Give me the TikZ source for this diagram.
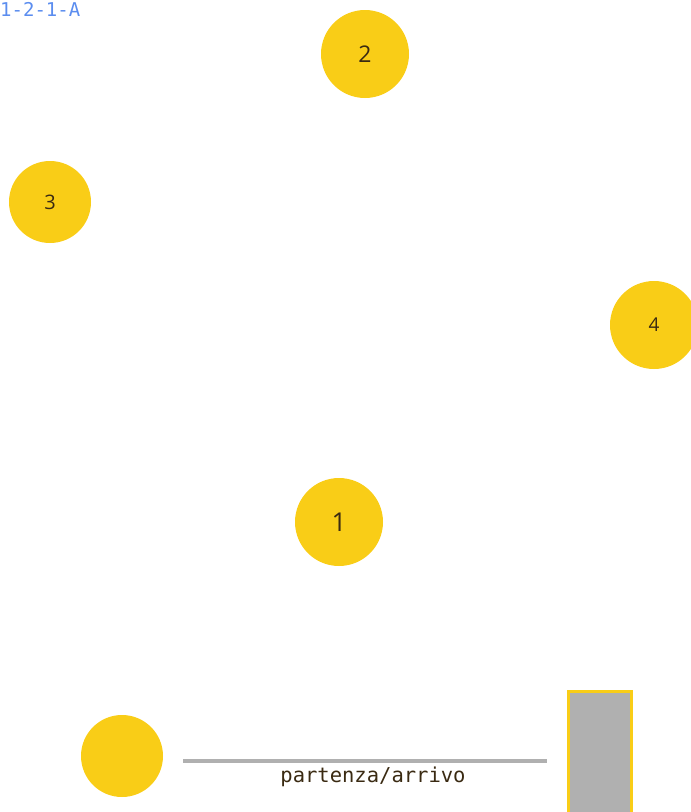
\documentclass[tikz,border=0pt]{standalone}
\usepackage{fontspec}
\setmainfont{Open Sans}
\newfontfamily\monof{DejaVu Sans Mono}
\definecolor{gold}{HTML}{F9CD17}
\definecolor{ink}{HTML}{3A2A12}
\definecolor{railgray}{HTML}{B0B0B0}
\definecolor{tagblue}{HTML}{5B8DEF}
\begin{document}
\begin{tikzpicture}[x=1pt,y=-1pt,
  stop/.style={circle,fill=gold,minimum size=#1,inner sep=0pt,text=ink},
  stop/.default=88pt]
\useasboundingbox (0,0) rectangle (691,812);
\begin{scope}
\clip (0,0) rectangle (691,812);
\node[anchor=west,inner sep=0pt,text=tagblue,font=\monof\fontsize{19}{19}\selectfont] (tag) at (0,9) {1-2-1-A};
\node[stop=88pt,font=\fontsize{23}{23}\selectfont] (n2) at (365,54) {2};
\node[stop=82pt,font=\fontsize{20}{20}\selectfont] (n3) at (50,202) {3};
\node[stop=88pt,font=\fontsize{19}{19}\selectfont] (n4) at (654,325) {4};
\node[stop=88pt,font=\fontsize{26}{26}\selectfont] (n1) at (339,522) {1};
\node[stop=82pt] (start) at (122,756) {};
\coordinate (la) at (183,761);
\coordinate (lb) at (547,761);
\draw[railgray,line width=4pt] (la) -- (lb);
\node[text=ink,font=\monof\fontsize{20.5}{20.5}\selectfont] (lbl) at (373,777) {partenza/arrivo};
\draw[gold,fill=railgray,line width=3pt] (568.5,691.5) rectangle (631.5,830);
\end{scope}
\end{tikzpicture}
\end{document}
